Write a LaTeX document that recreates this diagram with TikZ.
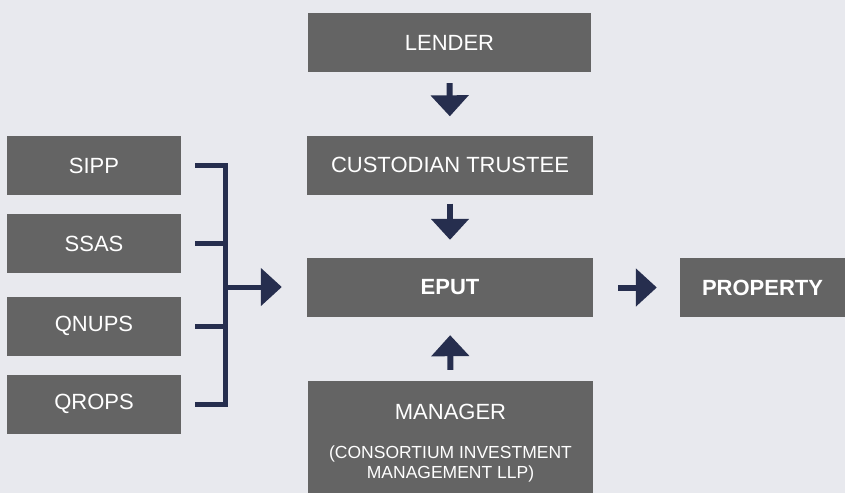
\documentclass[tikz,border=0pt]{standalone}
\usepackage{fontspec}
\setmainfont{Liberation Sans}
\usetikzlibrary{arrows.meta}
\definecolor{bgcol}{HTML}{E8E9EE}
\definecolor{boxcol}{HTML}{646464}
\definecolor{linkcol}{HTML}{262E4E}
\begin{document}
\begin{tikzpicture}[x=1pt,y=-1pt,
  box/.style={fill=boxcol, draw=none, text=white, inner sep=0pt,
    minimum height=59pt, font=\fontsize{22}{26}\selectfont},
  boldbox/.style={box, font=\fontsize{22}{26}\selectfont\bfseries},
  flow/.style={draw=linkcol, line width=6pt,
    -{Triangle[length=21pt,width=37pt]}},
  bus/.style={draw=linkcol, line width=5pt}]
  % page and background
  \fill[bgcol] (0,0) rectangle (845,493);
  \useasboundingbox (0,0) rectangle (845,493);

  % central column
  \node[box, minimum width=283pt] (lender) at (449.5,42.5) {LENDER};
  \node[box, minimum width=286pt] (custodian) at (450,165) {CUSTODIAN TRUSTEE};
  \node[boldbox, minimum width=286pt] (eput) at (450,287.5) {EPUT};
  \node[box, minimum width=285pt, minimum height=112pt] (manager) at (450.5,437) {};
  \node[text=white, font=\fontsize{22}{26}\selectfont, anchor=base] (mgrtitle)
    at (450.5,419) {MANAGER};
  \node[text=white, font=\fontsize{17.5}{20}\selectfont, align=center, anchor=base] (mgrsub)
    at (450.5,478) {(CONSORTIUM INVESTMENT\\MANAGEMENT LLP)};

  % property on the right
  \node[boldbox, minimum width=165pt] (property) at (762.5,287.5) {PROPERTY};

  % pension wrappers on the left
  \node[box, minimum width=174pt] (sipp)  at (94,165.5) {SIPP};
  \node[box, minimum width=174pt] (ssas)  at (94,243.5) {SSAS};
  \node[box, minimum width=174pt] (qnups) at (94,326) {QNUPS};
  \node[box, minimum width=174pt] (qrops) at (94,404) {QROPS};

  % vertical flow
  \draw[flow, shorten <=11pt, shorten >=19pt] (lender.south) -- (custodian.north);
  \draw[flow, shorten <=9pt, shorten >=18pt] (custodian.south) -- (eput.north);
  \draw[flow, shorten <=11pt, shorten >=18pt] (manager.north) -- (eput.south);
  \draw[flow, shorten <=25pt, shorten >=23pt] (eput.east) -- (property.west);

  % bracket joining the wrappers
  \coordinate (junction) at (225.5,287);
  \draw[bus] ([xshift=14pt]sipp.east) -| (junction) |- ([xshift=14pt]qrops.east);
  \draw[bus] ([xshift=14pt]ssas.east) -- (junction |- ssas.east);
  \draw[bus] ([xshift=14pt]qnups.east) -- (junction |- qnups.east);
  \draw[flow, line width=5pt, shorten >=25pt] (junction) -- (eput.west |- junction);
\end{tikzpicture}
\end{document}
